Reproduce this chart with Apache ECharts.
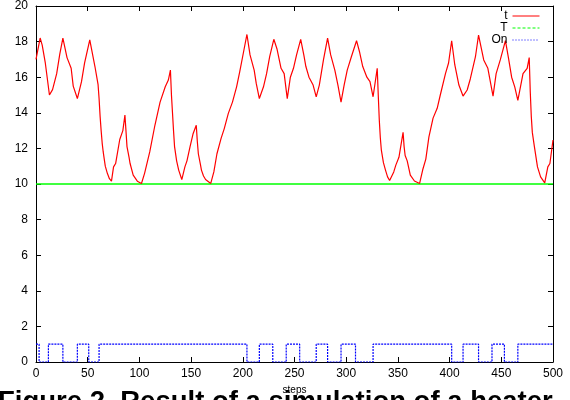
<!DOCTYPE html>
<html>
<head>
<meta charset="utf-8">
<script src="https://cdn.jsdelivr.net/npm/echarts@6/dist/echarts.min.js"></script>
<style>
  html, body { margin: 0; padding: 0; background: #fff; }
  #chart { width: 570px; height: 400px; }
</style>
</head>
<body>
<div id="chart"></div>
<script>
// temperature t
var tSteps = [0, 4, 6, 9, 13, 16, 20, 23, 26, 30, 34, 36, 40, 44, 47, 52, 57, 60, 61, 62, 63, 64, 65, 66, 67, 69, 71, 73, 75, 77, 81, 84, 86, 87, 88, 90, 91, 94, 98, 102,
  105, 110, 115, 120, 125, 128, 130, 131, 132, 133, 134, 136, 138, 141, 144, 146, 149, 152, 155, 156, 157, 159, 160, 162, 164, 169, 172, 175, 179, 182,
  186, 190, 194, 197, 201, 204, 207, 211, 213, 216, 220, 223, 226, 230, 233, 237, 240, 243, 246, 249, 252, 256, 259, 261, 264, 268, 271, 274, 278, 282,
  285, 289, 292, 295, 298, 301, 305, 310, 313, 316, 320, 323, 326, 330, 331, 332, 333, 334, 336, 338, 340, 342, 346, 348, 351, 355, 356, 357, 359, 362,
  366, 371, 374, 377, 380, 384, 388, 391, 396, 399, 402, 405, 409, 413, 417, 420, 425, 428, 433, 437, 442, 445, 449, 454, 457, 460, 463, 466, 471, 475,
  477, 478, 479, 480, 482, 485, 488, 492, 495, 497, 500];
var tValues = [17.0, 18.2, 17.8, 16.8, 15.0, 15.3, 16.2, 17.3, 18.2, 17.1, 16.5, 15.5, 14.8, 15.75, 16.8, 18.1, 16.6, 15.6, 14.8, 13.8, 13.0, 12.3, 11.8, 11.4, 11.0, 10.6, 10.3, 10.16, 10.96, 11.15, 12.5, 13.0, 13.87, 13.0, 12.1, 11.5, 11.15, 10.5, 10.16, 10.03,
  10.6, 11.8, 13.3, 14.6, 15.46, 15.84, 16.4, 15.0, 14.0, 13.0, 12.1, 11.3, 10.78, 10.25, 10.96, 11.3, 12.1, 12.84, 13.3, 12.4, 11.7, 11.1, 10.78, 10.45, 10.25, 10.03, 10.68, 11.7, 12.56, 13.1,
  13.97, 14.6, 15.46, 16.3, 17.5, 18.4, 17.25, 16.4, 15.65, 14.8, 15.46, 16.2, 17.15, 18.13, 17.6, 16.5, 16.2, 14.8, 16.0, 16.5, 17.25, 18.13, 17.25, 16.6, 16.0, 15.56, 14.9, 15.56, 16.97, 18.19,
  17.25, 16.4, 15.56, 14.6, 15.56, 16.4, 17.15, 18.05, 17.4, 16.6, 16.0, 15.75, 14.9, 16.5, 15.0, 13.6, 12.6, 11.9, 11.2, 10.78, 10.4, 10.2, 10.68, 11.06, 11.5, 12.9, 12.1, 11.6, 11.3, 10.5,
  10.17, 10.03, 10.8, 11.4, 12.65, 13.7, 14.25, 15.0, 16.2, 16.8, 18.05, 16.7, 15.56, 14.94, 15.28, 15.9, 17.15, 18.37, 16.97, 16.5, 14.94, 16.2, 16.97, 18.05, 17.06, 16.0, 15.46, 14.7, 16.2, 16.5,
  17.1, 15.2, 13.8, 12.9, 12.1, 10.96, 10.4, 10.06, 10.96, 11.15, 12.47];

// target T
var targetSteps = [0, 500];
var targetValues = [10, 10];

// heater state On: switching steps and state after each switch
var onSteps = [0, 3, 12, 26, 40, 51, 61, 204, 216, 229, 242, 255, 271, 282, 295, 309, 326, 402, 413, 428, 441, 453, 466, 500];
var onValues = [1, 0, 1, 0, 1, 0, 1, 0, 1, 0, 1, 0, 1, 0, 1, 0, 1, 0, 1, 0, 1, 0, 1, 1];

var xTicks = {min: 0, max: 500, interval: 50};
var yTicks = {min: 0, max: 20, interval: 2};

function pairs(xs, ys) {
  return xs.map(function (x, i) { return [x, ys[i]]; });
}

var font = 'Liberation Sans, Arial, Helvetica, sans-serif';
var axisCommon = {
  type: 'value',
  splitLine: {show: false},
  axisLine: {show: true, onZero: false, lineStyle: {color: '#000', width: 1}},
  axisTick: {show: true, inside: true, length: 5, lineStyle: {color: '#000'}}
};

function legendFor(name, top, dash) {
  return {
    data: [name], right: 30, top: top, padding: 0, align: 'right',
    itemWidth: 27, itemHeight: 10,
    itemStyle: {opacity: 0},
    lineStyle: {type: dash, width: 1},
    textStyle: {fontFamily: font, fontSize: 12, color: '#000'}
  };
}

var chart = echarts.init(document.getElementById('chart'));
chart.setOption({
  animation: false,
  backgroundColor: '#fff',
  grid: {left: 36, right: 17, top: 6, bottom: 38, containLabel: false},
  xAxis: [
    Object.assign({}, axisCommon, xTicks, {
      position: 'bottom',
      name: 'steps',
      nameLocation: 'middle',
      nameGap: 23,
      nameTextStyle: {fontFamily: font, fontSize: 10, color: '#000'},
      axisLabel: {fontFamily: font, fontSize: 12, color: '#000', margin: 6}
    }),
    Object.assign({}, axisCommon, xTicks, {position: 'top', axisLabel: {show: false}})
  ],
  yAxis: [
    Object.assign({}, axisCommon, yTicks, {
      position: 'left',
      axisLabel: {fontFamily: font, fontSize: 12, color: '#000', margin: 8}
    }),
    Object.assign({}, axisCommon, yTicks, {position: 'right', axisLabel: {show: false}})
  ],
  legend: [
    legendFor('t', 10, 'solid'),
    legendFor('T', 22, [3, 2]),
    legendFor('On', 34, [1, 2])
  ],
  graphic: [{
    type: 'text',
    left: -2,
    top: 388,
    z: 100,
    style: {
      text: 'Figure 2. Result of a simulation of a heater',
      font: 'bold 27.5px ' + font,
      fill: '#000'
    }
  }],
  series: [
    {
      name: 't',
      type: 'line',
      data: pairs(tSteps, tValues),
      symbol: 'none',
      lineStyle: {color: '#ff0000', width: 1.2},
      itemStyle: {color: '#ff0000'},
      z: 3
    },
    {
      name: 'T',
      type: 'line',
      data: pairs(targetSteps, targetValues),
      symbol: 'none',
      lineStyle: {color: '#00ff00', width: 1.5},
      itemStyle: {color: '#00ff00'},
      z: 2
    },
    {
      name: 'On',
      type: 'line',
      step: 'end',
      data: pairs(onSteps, onValues),
      symbol: 'none',
      lineStyle: {color: '#0000ff', width: 1.2, type: [2, 1]},
      itemStyle: {color: '#0000ff'},
      z: 2
    }
  ]
});
</script>
</body>
</html>
